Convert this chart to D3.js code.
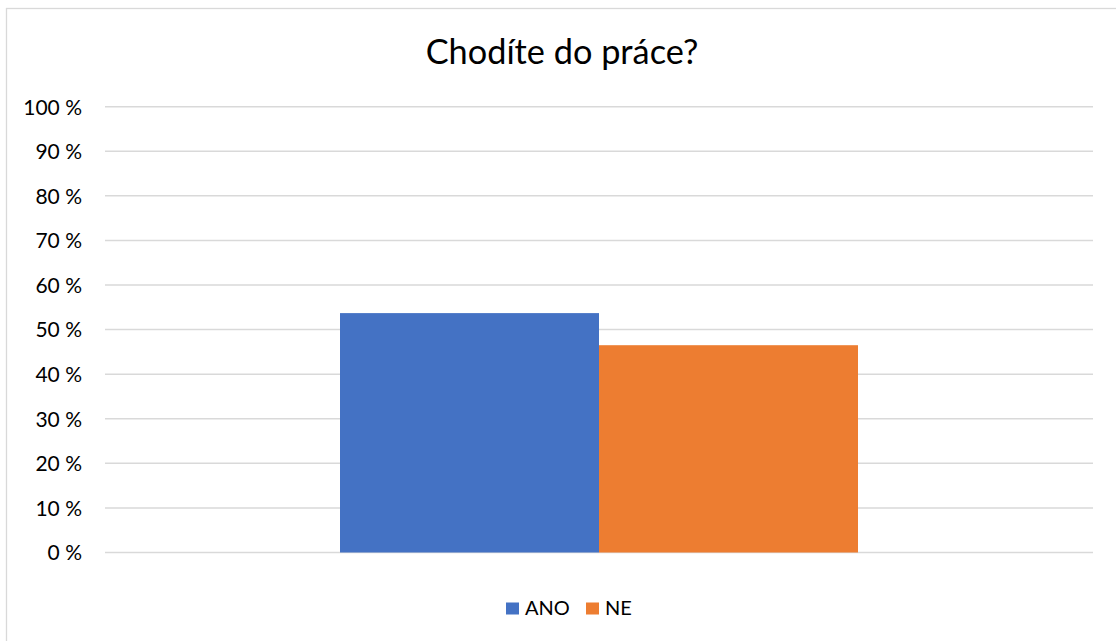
<!DOCTYPE html>
<html><head><meta charset="utf-8">
<script src="https://cdn.jsdelivr.net/npm/d3@7"></script>
<style>html,body{margin:0;padding:0;background:#fff;}svg{display:block;font-family:Lato, "Open Sans", sans-serif;}</style>
</head><body>
<svg id="chart" width="1116" height="641"></svg>
<script>
const title = "Chodíte do práce?";
const categories = [""];
const seriesNames = ["ANO", "NE"];
const seriesValues = [53.7, 46.5];
const seriesColors = ["#4472C4", "#ED7D31"];
const yTicks = [0, 10, 20, 30, 40, 50, 60, 70, 80, 90, 100];

const svg = d3.select("#chart");
// chart border
svg.append("rect").attr("x", 6.5).attr("y", 8.5).attr("width", 1120).attr("height", 650)
  .attr("fill", "#fff").attr("stroke", "#d9d9d9").attr("stroke-width", 1.3);

const m = {left: 105, right: 1093, top: 106.7, bottom: 552.5};
const y = d3.scaleLinear().domain([0, 100]).range([m.bottom, m.top]);
const x0 = d3.scaleBand().domain(categories).range([m.left, m.right]).paddingInner(0).paddingOuter(0.4537);
const x1 = d3.scaleBand().domain(seriesNames).range([0, x0.bandwidth()]).padding(0);

// gridlines
svg.append("g").selectAll("line").data(yTicks).join("line")
  .attr("x1", m.left).attr("x2", m.right)
  .attr("y1", d => y(d)).attr("y2", d => y(d))
  .attr("stroke", "#d9d9d9").attr("stroke-width", 1.5);

// y axis labels
const yAxis = d3.axisLeft(y).tickValues(yTicks).tickSize(0).tickPadding(0)
  .tickFormat(d => d + " %");
const ga = svg.append("g").attr("transform", `translate(${m.left - 23},0)`).call(yAxis);
ga.select(".domain").remove();
ga.selectAll("text").attr("font-family", "Lato").attr("font-size", 21).attr("fill", "#000").attr("dy", "0.35em");

// bars
const g = svg.append("g");
categories.forEach(c => {
  g.selectAll("rect.bar").data(seriesNames).join("rect").attr("class", "bar")
    .attr("x", (s) => x0(c) + x1(s))
    .attr("width", x1.bandwidth())
    .attr("y", (s, i) => y(seriesValues[i]))
    .attr("height", (s, i) => y(0) - y(seriesValues[i]))
    .attr("fill", (s, i) => seriesColors[i]);
});

// title
svg.append("text").attr("x", 562).attr("y", 64).attr("text-anchor", "middle")
  .attr("font-size", 34.3).attr("fill", "#000").text(title);

// legend
const legendX = [506, 586];
const lg = svg.append("g");
seriesNames.forEach((s, i) => {
  lg.append("rect").attr("x", legendX[i]).attr("y", 602.5).attr("width", 13).attr("height", 12).attr("fill", seriesColors[i]);
  lg.append("text").attr("x", legendX[i] + 19).attr("y", 615).attr("font-size", 20).attr("fill", "#000").text(s);
});
</script>
</body></html>
